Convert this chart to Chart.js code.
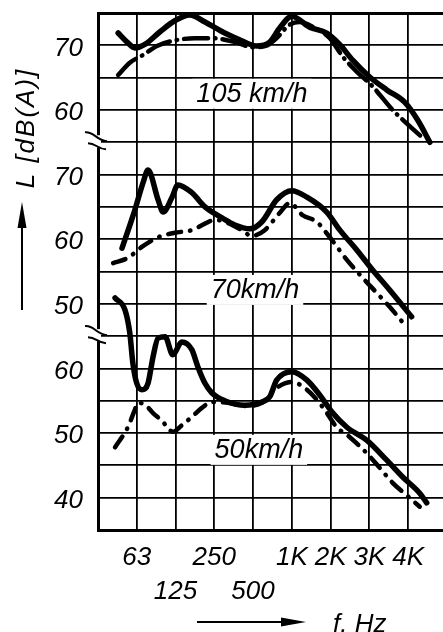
<!DOCTYPE html>
<html><head><meta charset="utf-8">
<script src="https://cdn.jsdelivr.net/npm/chart.js@4.4.1/dist/chart.umd.min.js"></script>
<style>html,body{margin:0;padding:0;background:#fff;overflow:hidden}#wrap{width:443px;height:632px;position:relative}</style>
</head><body><div id="wrap"><canvas id="c" width="443" height="632"></canvas></div>
<script>
// ---- axis definitions ----
const xTickPositions = [0, 1, 2, 3, 4, 5, 6, 7, 8];           // octave band grid columns
const xTickLabels = ['', '63', '125', '250', '500', '1K', '2K', '3K', '4K'];
const xTickSecondRow = [false, false, true, false, true, false, false, false, false];
const panelNames = ['50km/h', '70km/h', '105 km/h'];
const panelBaseDb = [35, 15, -5];   // dB value at grid unit 0 for each stacked panel (5 dB per grid unit)
const panelTopUnit = [6, 12, 16];

// ---- 105 km/h ----
const v105SolidX  = [0.52,0.75,0.95,1.22,1.6,1.98,2.37,2.76,3.27,3.71,4.08,4.43,4.69,5.0,5.46,5.9,6.24,6.57,7.01,7.45,7.91,8.25,8.56];
const v105SolidDb = [71.9,70.5,69.6,70.2,72.1,73.8,74.7,73.6,71.9,70.7,69.9,70.5,72.7,74.5,72.8,71.9,70.1,67.7,65.1,63.1,61.2,58.4,55.0];
const v105DashX   = [0.52,0.82,1.16,1.52,1.93,2.5,2.96,3.53,4.0,4.33,4.64,4.92,5.2,5.59,5.98,6.32,6.68,7.09,7.6,8.04,8.43];
const v105DashDb  = [65.4,67.3,68.5,69.9,70.7,71.1,71.1,70.5,69.7,69.9,71.3,73.1,73.6,72.7,71.1,68.2,65.9,63.6,60.0,57.5,55.4];

// ---- 70 km/h ----
const v70SolidX  = [0.62,0.95,1.16,1.29,1.55,1.68,1.91,2.06,2.42,2.76,3.2,3.53,3.92,4.23,4.61,5.0,5.39,5.9,6.24,6.68,7.09,7.53,8.09];
const v70SolidDb = [58.6,64.5,68.7,70.7,66.1,64.2,66.5,68.4,67.2,65.0,63.3,62.2,61.6,62.7,66.1,67.5,66.5,64.2,61.4,58.3,55.2,52.1,48.0];
const v70DashX   = [0.39,0.77,1.13,1.55,1.98,2.42,2.76,3.02,3.35,3.71,3.97,4.3,4.69,4.95,5.28,5.64,5.98,6.42,6.83,7.19,7.6,7.96];
const v70DashDb  = [56.3,57.1,58.8,60.3,61.0,61.4,62.4,63.0,62.5,61.4,60.5,61.4,64.1,65.6,63.7,62.7,60.3,56.8,54.0,51.7,49.0,46.4];

// ---- 50 km/h ----
const v50SolidX  = [0.44,0.7,0.82,0.9,1.0,1.13,1.29,1.42,1.55,1.73,1.93,2.16,2.42,2.58,2.76,2.94,3.27,3.79,4.23,4.43,4.61,5.0,5.39,5.72,6.03,6.42,6.93,7.45,7.86,8.3,8.48];
const v50SolidDb = [70.9,69.0,65.5,60.8,57.7,56.7,57.7,61.8,64.7,64.9,62.1,64.1,62.9,60.2,57.7,56.2,55.0,54.3,54.8,55.6,58.2,59.5,58.2,55.9,53.3,50.9,48.9,45.8,43.2,40.7,39.2];
const v50DashX   = [0.44,0.77,0.95,1.03,1.23,1.42,1.65,1.93,2.16,2.42,2.68,2.94,3.35,3.79,4.23,4.61,5.0,5.39,5.8,6.16,6.49,6.93,7.27,7.6,7.96,8.3];
const v50DashDb  = [47.8,50.9,53.6,54.7,54.3,53.1,51.9,50.2,51.2,52.5,53.9,54.8,54.7,54.2,54.7,57.0,57.9,56.7,54.0,50.9,49.4,46.9,44.6,42.3,40.4,38.6];

// ---- build ----
function toPoints(xs, dbs, panel) {
  return xs.map((x, i) => ({ x: x, y: (dbs[i] - panelBaseDb[panel]) / 5 }));
}
function panelOfUnit(u) { return u <= panelTopUnit[0] ? 0 : (u <= panelTopUnit[1] ? 1 : 2); }

const FONT = '"Liberation Sans", Arial, "DejaVu Sans", sans-serif';
const solidStyle = { borderColor: '#000', borderWidth: 5.5, pointRadius: 0, fill: false,
  cubicInterpolationMode: 'monotone', borderCapStyle: 'round', borderJoinStyle: 'round' };
const dashStyle = { borderColor: '#000', borderWidth: 4.5, pointRadius: 0, fill: false,
  cubicInterpolationMode: 'monotone', borderCapStyle: 'round', borderJoinStyle: 'round',
  borderDash: [13, 9, 0.5, 9] };

const datasets = [
  Object.assign({ label: '105 solid', data: toPoints(v105SolidX, v105SolidDb, 2) }, solidStyle),
  Object.assign({ label: '105 dash', data: toPoints(v105DashX, v105DashDb, 2) }, dashStyle, { borderDash: [24, 7, 0.5, 7] }),
  Object.assign({ label: '70 solid', data: toPoints(v70SolidX, v70SolidDb, 1) }, solidStyle),
  Object.assign({ label: '70 dash', data: toPoints(v70DashX, v70DashDb, 1) }, dashStyle),
  Object.assign({ label: '50 solid', data: toPoints(v50SolidX, v50SolidDb, 0) }, solidStyle),
  Object.assign({ label: '50 dash', data: toPoints(v50DashX, v50DashDb, 0) }, dashStyle),
];

// annotation placement (grid units)
const panelLabelAt = [{ x: 4.15, u: 2.48 }, { x: 4.05, u: 7.43 }, { x: 3.97, u: 13.5 }];

const decor = {
  id: 'decor',
  beforeDatasetsDraw(chart) {
    const { ctx, scales: { x, y } } = chart;
    ctx.save();
    ctx.font = 'italic 27px ' + FONT;
    ctx.textAlign = 'center';
    ctx.textBaseline = 'middle';
    panelNames.forEach((name, i) => {
      const px = x.getPixelForValue(panelLabelAt[i].x);
      const py = y.getPixelForValue(panelLabelAt[i].u);
      const w = ctx.measureText(name).width;
      ctx.fillStyle = '#fff';
      ctx.fillRect(px - w / 2 - 4, py - 15, w + 8, 30);
      ctx.fillStyle = '#000';
      ctx.fillText(name, px, py + 1);
    });
    ctx.restore();
  },
  afterDraw(chart) {
    const { ctx, chartArea, scales: { y } } = chart;
    const left = chartArea.left;
    ctx.save();
    // axis breaks
    [panelTopUnit[0], panelTopUnit[1]].forEach(u => {
      const yc = y.getPixelForValue(u);
      ctx.fillStyle = '#fff';
      ctx.fillRect(left - 3, yc - 7, 6, 12);
      ctx.strokeStyle = '#000';
      ctx.lineWidth = 2;
      ctx.beginPath();
      ctx.moveTo(left - 13, yc - 10);
      ctx.bezierCurveTo(left - 4, yc - 11, left - 2, yc - 2, left + 9, yc - 1);
      ctx.stroke();
      ctx.beginPath();
      ctx.moveTo(left - 10, yc + 1);
      ctx.bezierCurveTo(left - 2, yc + 1, left, yc + 7, left + 8, yc + 7);
      ctx.stroke();
    });
    // y axis title and arrow
    ctx.fillStyle = '#000';
    ctx.strokeStyle = '#000';
    ctx.lineWidth = 2;
    ctx.beginPath(); ctx.moveTo(22, 310); ctx.lineTo(22, 222); ctx.stroke();
    ctx.beginPath(); ctx.moveTo(22, 202); ctx.lineTo(17.5, 228); ctx.lineTo(26.5, 228); ctx.closePath(); ctx.fill();
    ctx.save();
    ctx.translate(27, 128);
    ctx.rotate(-Math.PI / 2);
    ctx.font = 'italic 26px ' + FONT;
    ctx.letterSpacing = '2px';
    ctx.textAlign = 'center';
    ctx.textBaseline = 'middle';
    ctx.fillText('L [dB(A)]', 0, 0);
    ctx.restore();
    // x axis title and arrow
    ctx.beginPath(); ctx.moveTo(197, 622); ctx.lineTo(285, 622); ctx.stroke();
    ctx.beginPath(); ctx.moveTo(306, 622); ctx.lineTo(281, 617.5); ctx.lineTo(281, 626.5); ctx.closePath(); ctx.fill();
    ctx.font = 'italic 26px ' + FONT;
    ctx.textAlign = 'left';
    ctx.textBaseline = 'alphabetic';
    ctx.fillText('f. Hz', 333, 632);
    ctx.restore();
  }
};

new Chart(document.getElementById('c'), {
  type: 'line',
  data: { datasets },
  plugins: [decor],
  options: {
    responsive: false,
    animation: false,
    devicePixelRatio: 1,
    layout: { padding: { top: 13, left: 0, right: 0, bottom: 0 } },
    plugins: { legend: { display: false }, tooltip: { enabled: false } },
    scales: {
      x: {
        type: 'linear', min: 0, max: 8.9,
        afterBuildTicks: s => { s.ticks = xTickPositions.map(v => ({ value: v })); },
        afterFit: s => { s.height = 102; s.paddingLeft = 0; s.paddingRight = 0; },
        ticks: {
          autoSkip: false, maxRotation: 0, padding: 11, color: '#000',
          font: { family: FONT, size: 26, style: 'italic', lineHeight: 1.3 },
          callback: v => { const i = xTickPositions.indexOf(v); if (i < 0) return ''; return xTickSecondRow[i] ? ['', xTickLabels[i]] : xTickLabels[i]; }
        },
        grid: { color: '#000', lineWidth: 1.8, drawTicks: false },
        border: { display: true, color: '#000', width: 3 }
      },
      y: {
        type: 'linear', min: 0, max: panelTopUnit[2],
        afterBuildTicks: s => { const t = []; for (let v = 0; v <= panelTopUnit[2]; v++) t.push({ value: v }); s.ticks = t; },
        afterFit: s => { s.width = 98; s.paddingTop = 0; s.paddingBottom = 0; },
        ticks: {
          autoSkip: false, padding: 15, color: '#000', labelOffset: 3,
          font: { family: FONT, size: 26, style: 'italic' },
          callback: v => { const db = panelBaseDb[panelOfUnit(v)] + 5 * v; return (v > 0 && v < panelTopUnit[2] && db % 10 === 0) ? String(db) : ''; }
        },
        grid: { color: '#000', lineWidth: c => (c.tick && c.tick.value === panelTopUnit[2]) ? 3 : 1.8, drawTicks: false },
        border: { display: true, color: '#000', width: 3 }
      }
    }
  }
});
</script></body></html>
